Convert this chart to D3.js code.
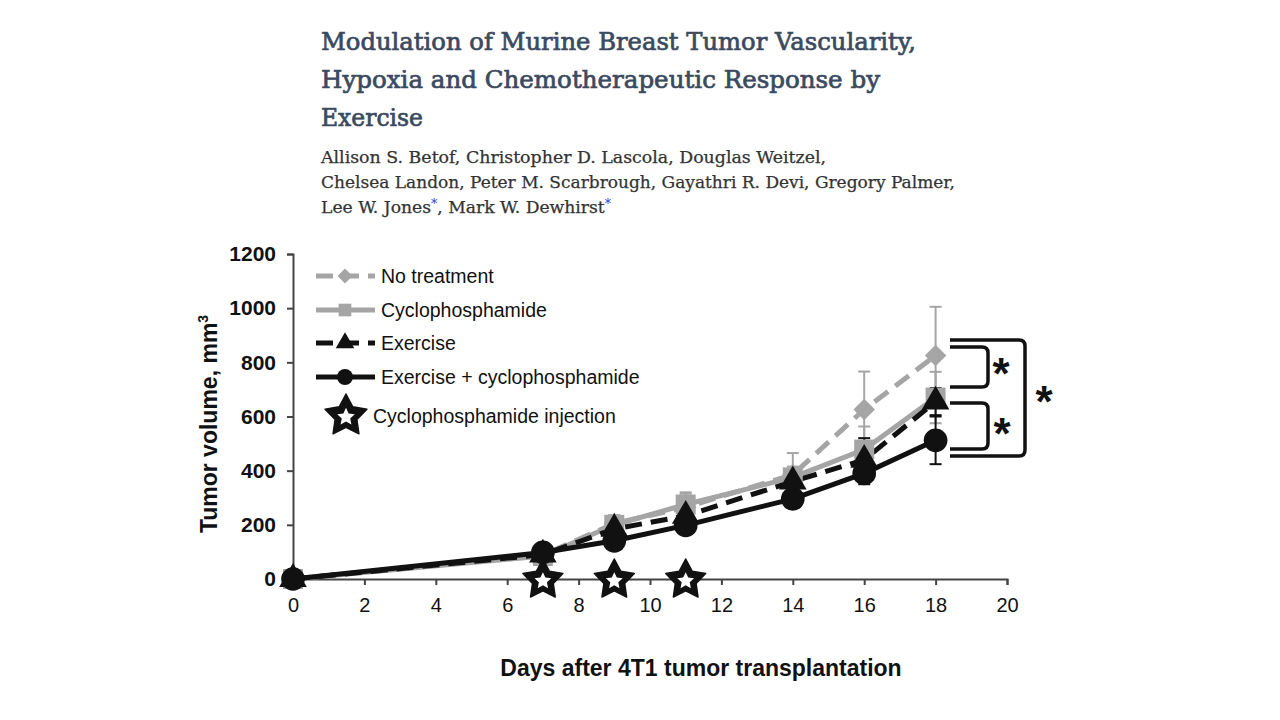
<!DOCTYPE html>
<html>
<head>
<meta charset="utf-8">
<script src="https://cdn.jsdelivr.net/npm/d3@7"></script>
<style>
  html, body { margin: 0; padding: 0; background: #fff; }
  svg { display: block; }
</style>
</head>
<body>
<svg id="chart" width="1280" height="720"></svg>
<script>
// ---------------- DATA ----------------
const titleLines = [
  "Modulation of Murine Breast Tumor Vascularity,",
  "Hypoxia and Chemotherapeutic Response by",
  "Exercise"
];
const authorLines = [
  "Allison S. Betof, Christopher D. Lascola, Douglas Weitzel,",
  "Chelsea Landon, Peter M. Scarbrough, Gayathri R. Devi, Gregory Palmer,"
];
const days = [0, 7, 9, 11, 14, 16, 18];
const seriesNames = ["No treatment", "Cyclophosphamide", "Exercise", "Exercise + cyclophosphamide"];
const noTreatment   = [0, 88, 205, 265, 385, 626, 825];
const cyclo         = [0, 85, 200, 275, 375, 478, 670];
const exercise      = [0, 90, 185, 233, 360, 440, 655];
const exCyclo       = [0, 98, 141, 198, 296, 390, 512];
const errNoTreat    = [0, 10, 30, 50, 80, 140, 180];
const errCyclo      = [0, 8, 35, 45, 40, 85, 95];
const errExercise   = [0, 8, 15, 25, 30, 80, 50];
const errExCyclo    = [0, 8, 15, 20, 25, 40, 88];
const injectionDays = [7, 9, 11];
const xTicks = [0, 2, 4, 6, 8, 10, 12, 14, 16, 18, 20];
const yTicks = [0, 200, 400, 600, 800, 1000, 1200];
const xLabel = "Days after 4T1 tumor transplantation";
const yLabel = "Tumor volume, mm";
const injectionLabel = "Cyclophosphamide injection";

// ---------------- SETUP ----------------
const svg = d3.select("#chart");
const GRAY = "#a5a5a5", BLACK = "#111";
const sans = "'Liberation Sans', Arial, sans-serif";
const serif = "'DejaVu Serif', 'Liberation Serif', serif";

const x = d3.scaleLinear().domain([0, 20]).range([293, 1007]);
const y = d3.scaleLinear().domain([0, 1200]).range([579, 254]);

// ---------------- HEADER ----------------
const titleWidths = [595, 559, 102];
titleLines.forEach((t, i) => {
  svg.append("text")
    .attr("x", 321).attr("y", 50 + i * 38)
    .attr("font-family", serif).attr("font-size", 24)
    .attr("fill", "#3b4a5f").attr("stroke", "#3b4a5f").attr("stroke-width", 0.7)
    .attr("textLength", titleWidths[i]).attr("lengthAdjust", "spacingAndGlyphs")
    .text(t);
});
const authorWidths = [505, 634];
authorLines.forEach((t, i) => {
  svg.append("text")
    .attr("x", 321).attr("y", 163 + i * 25)
    .attr("font-family", serif).attr("font-size", 16.5)
    .attr("fill", "#333").attr("stroke", "#333").attr("stroke-width", 0.25)
    .attr("textLength", authorWidths[i]).attr("lengthAdjust", "spacingAndGlyphs")
    .text(t);
});
const a3 = svg.append("text")
  .attr("x", 321).attr("y", 213)
  .attr("font-family", serif).attr("font-size", 16.5).attr("fill", "#333")
  .attr("stroke", "#333").attr("stroke-width", 0.25)
  .attr("textLength", 290).attr("lengthAdjust", "spacingAndGlyphs");
a3.append("tspan").text("Lee W. Jones");
a3.append("tspan").attr("fill", "#2a36d6").attr("stroke", "none").attr("dy", -5).attr("font-size", 12).text("*");
a3.append("tspan").attr("dy", 5).text(", Mark W. Dewhirst");
a3.append("tspan").attr("fill", "#2a36d6").attr("stroke", "none").attr("dy", -5).attr("font-size", 12).text("*");

// ---------------- AXES ----------------
const gx = svg.append("g").attr("transform", `translate(0,${y(0)})`)
  .call(d3.axisBottom(x).tickValues(xTicks).tickSize(6).tickPadding(13).tickFormat(d3.format("d")));
gx.select(".domain").attr("stroke", "#444").attr("stroke-width", 2);
gx.selectAll(".tick line").attr("stroke", "#444").attr("stroke-width", 2);
gx.selectAll(".tick text").attr("font-family", sans).attr("font-size", 20).attr("fill", "#111");

const gy = svg.append("g").attr("transform", `translate(${x(0)},0)`)
  .call(d3.axisLeft(y).tickValues(yTicks).tickSize(6).tickPadding(11).tickFormat(d3.format("d")));
gy.select(".domain").attr("stroke", "#444").attr("stroke-width", 2);
gy.selectAll(".tick line").attr("stroke", "#444").attr("stroke-width", 2);
gy.selectAll(".tick text").attr("font-family", sans).attr("font-size", 21)
  .attr("font-weight", "bold").attr("fill", "#111");

// Axis titles
svg.append("text")
  .attr("x", 701).attr("y", 676).attr("text-anchor", "middle")
  .attr("font-family", sans).attr("font-weight", "bold").attr("font-size", 23).attr("fill", "#111")
  .text(xLabel);
const yl = svg.append("text")
  .attr("transform", "translate(217,424) rotate(-90)").attr("text-anchor", "middle")
  .attr("font-family", sans).attr("font-weight", "bold").attr("font-size", 23).attr("fill", "#111");
yl.append("tspan").text(yLabel);
yl.append("tspan").attr("dy", -9).attr("font-size", 14).text("3");

// ---------------- SERIES ----------------
const series = [
  { name: seriesNames[0], vals: noTreatment, err: errNoTreat, color: GRAY, dash: "17,9", shape: "diamond" },
  { name: seriesNames[1], vals: cyclo, err: errCyclo, color: GRAY, dash: null, shape: "square" },
  { name: seriesNames[2], vals: exercise, err: errExercise, color: BLACK, dash: "17,9", shape: "triangle" },
  { name: seriesNames[3], vals: exCyclo, err: errExCyclo, color: BLACK, dash: null, shape: "circle" }
];

function symPath(shape, s) {
  const map = { diamond: d3.symbolSquare, square: d3.symbolSquare, triangle: d3.symbolTriangle, circle: d3.symbolCircle };
  return d3.symbol().type(map[shape]).size(s)();
}
const sizes = { diamond: 230, square: 400, triangle: 330, circle: 440 };

const line = d3.line().x((d, i) => x(days[i])).y(d => y(d));

series.forEach(s => {
  svg.append("path").datum(s.vals)
    .attr("d", line).attr("fill", "none")
    .attr("stroke", s.color).attr("stroke-width", 5)
    .attr("stroke-dasharray", s.dash);
});

// Error bars
series.forEach(s => {
  const g = svg.append("g").attr("stroke", s.color).attr("stroke-width", 2);
  days.forEach((d, i) => {
    if (!s.err[i]) return;
    const cx = x(d), top = y(s.vals[i] + s.err[i]), bot = y(s.vals[i] - s.err[i]);
    g.append("line").attr("x1", cx).attr("x2", cx).attr("y1", top).attr("y2", bot);
    g.append("line").attr("x1", cx - 6).attr("x2", cx + 6).attr("y1", top).attr("y2", top);
    g.append("line").attr("x1", cx - 6).attr("x2", cx + 6).attr("y1", bot).attr("y2", bot);
  });
});

// Markers
series.forEach(s => {
  svg.append("g").selectAll("path").data(s.vals).join("path")
    .attr("d", symPath(s.shape, sizes[s.shape]))
    .attr("transform", (d, i) => `translate(${x(days[i])},${y(d)})` + (s.shape === "diamond" ? " rotate(45)" : ""))
    .attr("fill", s.color);
});

// Stars
function starPoints(cx, cy, R, r) {
  const pts = [];
  for (let k = 0; k < 10; k++) {
    const a = -Math.PI / 2 + k * Math.PI / 5;
    const rad = k % 2 === 0 ? R : r;
    pts.push([cx + rad * Math.cos(a), cy + rad * Math.sin(a)]);
  }
  return pts.map(p => p.join(",")).join(" ");
}
function drawStar(cx, cy, R) {
  svg.append("polygon").attr("points", starPoints(cx, cy, R, R * 0.52))
    .attr("fill", BLACK).attr("stroke", BLACK).attr("stroke-width", 1.5).attr("stroke-linejoin", "round");
  svg.append("polygon").attr("points", starPoints(cx, cy + R * 0.05, R * 0.42, R * 0.42 * 0.48)).attr("fill", "#fff");
}
injectionDays.forEach(d => drawStar(x(d), y(0) + 1, 21));

// ---------------- LEGEND ----------------
const legY = [276, 310, 343, 377];
const legSizes = { diamond: 110, square: 160, triangle: 150, circle: 200 };
series.forEach((s, i) => {
  const ly = legY[i];
  svg.append("line").attr("x1", 316).attr("x2", 375).attr("y1", ly).attr("y2", ly)
    .attr("stroke", s.color).attr("stroke-width", 5).attr("stroke-dasharray", s.dash);
  svg.append("path").attr("d", symPath(s.shape, legSizes[s.shape]))
    .attr("transform", `translate(345,${ly})` + (s.shape === "diamond" ? " rotate(45)" : ""))
    .attr("fill", s.color);
  svg.append("text").attr("x", 381).attr("y", ly + 7)
    .attr("font-family", sans).attr("font-size", 19.5).attr("fill", "#111").text(s.name);
});
drawStar(346, 416, 22);
svg.append("text").attr("x", 373).attr("y", 423)
  .attr("font-family", sans).attr("font-size", 19.5).attr("fill", "#111").text(injectionLabel);

// ---------------- SIGNIFICANCE BRACKETS ----------------
function bracket(x0, x1, y0, y1, rr) {
  return `M${x0},${y0} L${x1 - rr},${y0} Q${x1},${y0} ${x1},${y0 + rr} L${x1},${y1 - rr} Q${x1},${y1} ${x1 - rr},${y1} L${x0},${y1}`;
}
const br = svg.append("g").attr("fill", "none").attr("stroke", BLACK).attr("stroke-width", 3.5);
br.append("path").attr("d", bracket(950, 1025, 340, 456, 6));
br.append("path").attr("d", bracket(950, 988, 347, 387, 6));
br.append("path").attr("d", bracket(950, 988, 403, 449, 6));
const ast = [[1001, 365], [1002, 425], [1044, 393]];
ast.forEach(p => {
  svg.append("text").attr("x", p[0]).attr("y", p[1] + 24).attr("text-anchor", "middle")
    .attr("font-family", sans).attr("font-weight", "bold").attr("font-size", 44).attr("fill", BLACK).text("*");
});
</script>
</body>
</html>
